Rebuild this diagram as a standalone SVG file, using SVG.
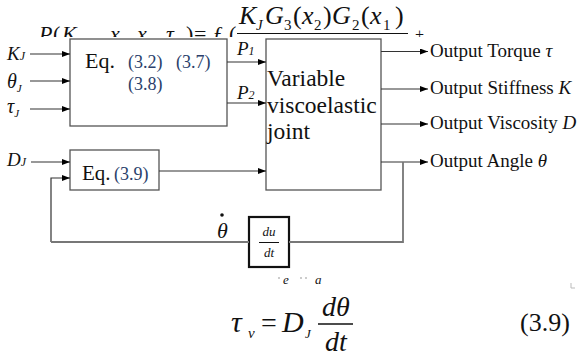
<svg xmlns="http://www.w3.org/2000/svg" width="580" height="356" viewBox="0 0 580 356">
<defs>
<marker id="ah" markerWidth="8" markerHeight="6" refX="8" refY="3" orient="auto" markerUnits="userSpaceOnUse"><path d="M0,0 L8,3 L0,6 z" fill="#000"/></marker>
<clipPath id="topclip"><rect x="0" y="0" width="580" height="37"/></clipPath>
</defs>
<style>
text{font-family:"Liberation Serif","Times New Roman",serif;fill:#111}
.it{font-style:italic}
.ref{fill:#2b3f6b}
.box{fill:#fff;stroke:#555;stroke-width:1.3}
.ln{fill:none;stroke:#333;stroke-width:1.2}
.fb{fill:none;stroke:#777;stroke-width:1.8}
.arr{marker-end:url(#ah)}
</style>
<rect x="0" y="0" width="580" height="356" fill="#fff"/>

<g id="top-formula" clip-path="url(#topclip)">
  <text font-size="22" y="41"><tspan x="39" class="it">P</tspan><tspan x="53">(</tspan><tspan x="62" class="it">K</tspan><tspan x="110" class="it">x</tspan><tspan x="137" class="it">x</tspan><tspan x="166" class="it">τ</tspan><tspan x="186">)</tspan><tspan x="194">=</tspan><tspan x="212" class="it">ƒ</tspan><tspan x="229">(</tspan></text>
  <text font-size="26" y="24"><tspan x="239" class="it">K</tspan><tspan x="265" class="it">G</tspan><tspan x="293">(</tspan><tspan x="302" class="it">x</tspan><tspan x="323">)</tspan><tspan x="332" class="it">G</tspan><tspan x="361">(</tspan><tspan x="370" class="it">x</tspan><tspan x="395">)</tspan></text>
  <text font-size="15" y="30"><tspan x="256" class="it">J</tspan><tspan x="284">3</tspan><tspan x="314">2</tspan><tspan x="352">2</tspan><tspan x="383">1</tspan></text>
  <line x1="237" y1="33.5" x2="408" y2="33.5" stroke="#111" stroke-width="1.2"/>
  <text font-size="16" x="415" y="40">+</text>
</g>

<g id="eq-box">
  <rect class="box" x="70" y="39" width="157" height="87"/>
  <text font-size="22" x="85" y="68">Eq.</text>
  <text font-size="18" class="ref" x="128" y="68">(3.2)</text>
  <text font-size="18" class="ref" x="176" y="68">(3.7)</text>
  <text font-size="18" class="ref" x="128" y="90">(3.8)</text>
</g>

<g id="vvj-box">
  <rect class="box" x="266" y="39" width="115" height="151"/>
  <text font-size="23.5" x="267" y="86">Variable</text>
  <text font-size="23.5" x="267" y="113">viscoelastic</text>
  <text font-size="23.5" x="267" y="139">joint</text>
</g>

<g id="eq39-box">
  <rect class="box" x="70" y="150" width="89" height="40"/>
  <text font-size="21" x="82" y="180">Eq.</text>
  <text font-size="18" class="ref" x="114" y="180">(3.9)</text>
</g>

<g id="dudt-box">
  <rect x="249" y="217" width="40" height="50" fill="#fff" stroke="#111" stroke-width="2.2"/>
  <text font-size="13" class="it" x="269" y="236" text-anchor="middle">du</text>
  <line x1="259" y1="242.5" x2="279" y2="242.5" stroke="#111" stroke-width="1"/>
  <text font-size="13" class="it" x="269" y="257" text-anchor="middle">dt</text>
</g>

<g id="inputs">
  <text font-size="19" class="it" x="7" y="60">K<tspan font-size="12">J</tspan></text>
  <text font-size="20" class="it" x="7" y="88">θ<tspan font-size="11" dy="4">J</tspan></text>
  <text font-size="20" class="it" x="7" y="113">τ<tspan font-size="11" dy="4">J</tspan></text>
  <text font-size="19" class="it" x="7" y="166">D<tspan font-size="12">J</tspan></text>
  <text font-size="19" class="it" x="237" y="55">P<tspan font-size="12">1</tspan></text>
  <text font-size="19" class="it" x="237" y="99">P<tspan font-size="12">2</tspan></text>
</g>

<g id="outputs" font-size="19">
  <text x="430" y="57">Output Torque  <tspan class="it">τ</tspan></text>
  <text x="430" y="94">Output Stiffness <tspan class="it">K</tspan></text>
  <text x="430" y="129">Output Viscosity <tspan class="it">D</tspan></text>
  <text x="430" y="167">Output Angle <tspan class="it">θ</tspan></text>
</g>

<g id="theta-dot">
  <text font-size="22" class="it" x="217" y="238">θ</text>
  <circle cx="222" cy="215" r="1.8" fill="#111"/>
</g>

<g id="connectors">
  <path class="ln arr" d="M30,54 H70"/>
  <path class="ln arr" d="M30,81 H70"/>
  <path class="ln arr" d="M30,109 H70"/>
  <path class="ln arr" d="M31,162 H70"/>
  <path class="ln arr" d="M51,242 V178 H70"/>
  <path class="ln arr" d="M159,171 H266"/>
  <path class="ln arr" d="M227,62 H266"/>
  <path class="ln arr" d="M227,103 H266"/>
  <path class="ln arr" d="M381,51.5 H428"/>
  <path class="ln arr" d="M381,89 H428"/>
  <path class="ln arr" d="M381,124 H428"/>
  <path class="ln arr" d="M381,162 H428"/>
  <path class="fb" d="M403,162 V242 H289"/>
  <path class="fb" d="M249,242 H51"/>
</g>

<g id="fragments">
  <rect x="278" y="277.5" width="2" height="1" fill="#999"/>
  <rect x="300" y="277.5" width="2" height="1" fill="#999"/>
  <rect x="305" y="277.5" width="2" height="1" fill="#999"/>
  <text font-size="13" class="it" x="283" y="284">e</text>
  <text font-size="13" class="it" x="315" y="284">a</text>
  <path d="M571,283 V288 H575" fill="none" stroke="#bbb" stroke-width="1"/>
</g>

<g id="bottom-formula">
  <text font-size="30" class="it" x="231" y="332">τ</text>
  <text font-size="15" class="it" x="248" y="338">v</text>
  <text font-size="28" x="261" y="332">=</text>
  <text font-size="30" class="it" x="282" y="332">D</text>
  <text font-size="13" class="it" x="305" y="338">J</text>
  <text font-size="28" class="it" x="336" y="316" text-anchor="middle">dθ</text>
  <line x1="318" y1="324" x2="353" y2="324" stroke="#111" stroke-width="1.3"/>
  <text font-size="28" class="it" x="336" y="351" text-anchor="middle">dt</text>
  <text font-size="26" x="520" y="331">(3.9)</text>
</g>
</svg>
